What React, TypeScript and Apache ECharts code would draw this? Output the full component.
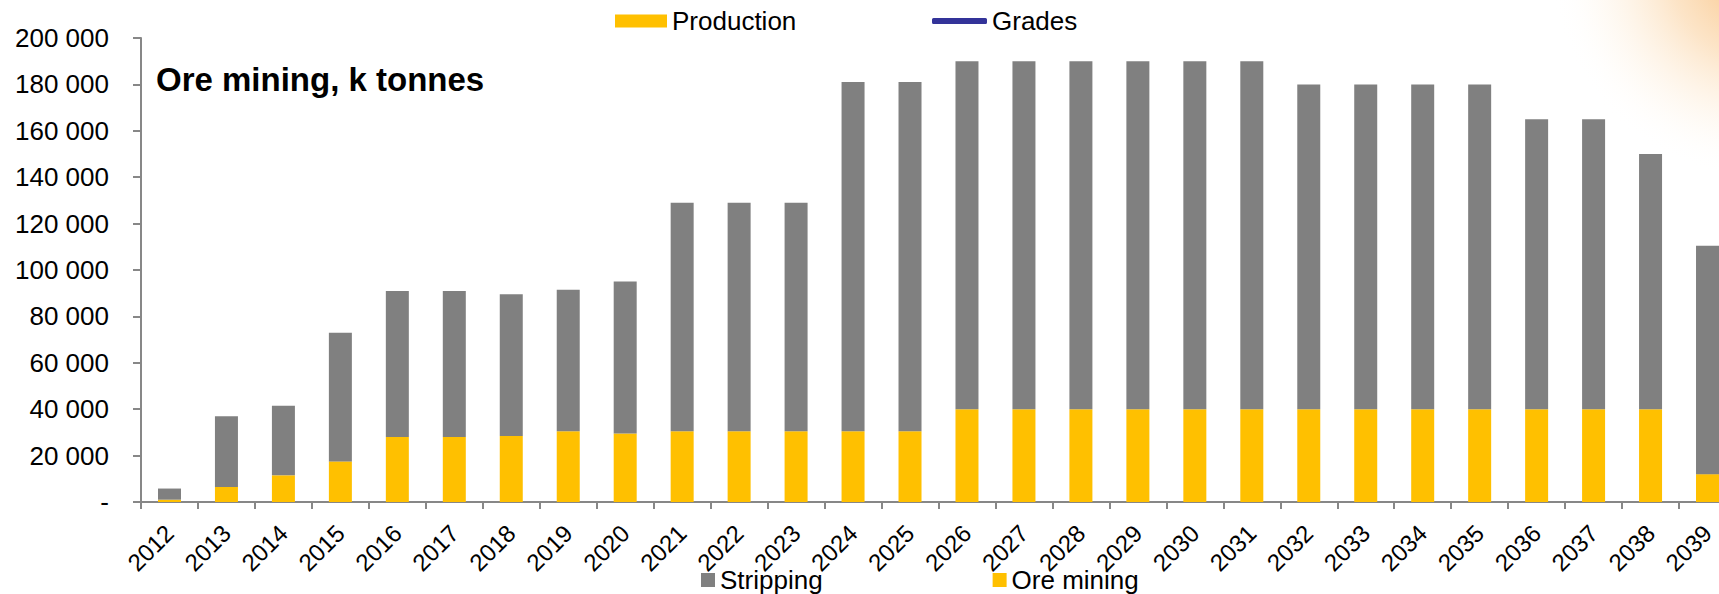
import React, { useEffect, useRef } from "react";
import * as echarts from "echarts";

// Mining schedule, thousand tonnes per year
const years = [
  "2012", "2013", "2014", "2015", "2016", "2017", "2018", "2019", "2020", "2021",
  "2022", "2023", "2024", "2025", "2026", "2027", "2028", "2029", "2030", "2031",
  "2032", "2033", "2034", "2035", "2036", "2037", "2038", "2039",
];

const oreMining = [
  1000, 6500, 11500, 17500, 28000, 28000, 28500, 30500, 29500, 30500,
  30500, 30500, 30500, 30500, 40000, 40000, 40000, 40000, 40000, 40000,
  40000, 40000, 40000, 40000, 40000, 40000, 40000, 12000,
];

const stripping = [
  4800, 30500, 30000, 55500, 63000, 63000, 61000, 61000, 65500, 98500,
  98500, 98500, 150500, 150500, 150000, 150000, 150000, 150000, 150000, 150000,
  140000, 140000, 140000, 140000, 125000, 125000, 110000, 98500,
];

const yTicks = { min: 0, max: 200000, interval: 20000 };

const FONT = "'Liberation Sans', Arial, sans-serif";
const AXIS_GREY = "#878787";

const formatThousands = (v: number) =>
  v === 0 ? "-" : String(v).replace(/\B(?=(\d{3})+(?!\d))/g, " ");

export default function App() {
  const ref = useRef<HTMLDivElement>(null);

  useEffect(() => {
    if (!ref.current) return;
    const chart = echarts.init(ref.current, undefined, { renderer: "svg" });

    chart.setOption({
      animation: false,
      backgroundColor: "#ffffff",
      title: {
        text: "Ore mining, k tonnes",
        left: 156,
        top: 63,
        padding: 0,
        textStyle: { fontFamily: FONT, fontSize: 33, fontWeight: "bold", color: "#000" },
      },
      graphic: [
        {
          // soft warm glow in the top-right corner of the slide
          type: "circle",
          silent: true,
          z: -10,
          shape: { cx: 1765, cy: -35, r: 215 },
          style: {
            fill: {
              type: "radial",
              x: 0.5,
              y: 0.5,
              r: 0.5,
              colorStops: [
                { offset: 0, color: "rgba(246,168,78,0.8)" },
                { offset: 0.45, color: "rgba(249,196,132,0.45)" },
                { offset: 0.8, color: "rgba(253,230,200,0.15)" },
                { offset: 1, color: "rgba(255,255,255,0)" },
              ],
            },
          },
        },
      ],
      legend: [
        {
          data: [{ name: "Stripping" }, { name: "Ore mining" }],
          left: 701,
          top: 567,
          padding: 0,
          itemWidth: 14,
          itemHeight: 14,
          itemGap: 170,
          icon: "rect",
          selectedMode: false,
          textStyle: { fontFamily: FONT, fontSize: 26, color: "#000" },
        },
        {
          data: [{ name: "Production", icon: "rect" }],
          left: 615,
          top: 8,
          padding: 0,
          itemWidth: 52,
          itemHeight: 13,
          selectedMode: false,
          textStyle: { fontFamily: FONT, fontSize: 26, color: "#000" },
        },
        {
          data: [{ name: "Grades", icon: "roundRect" }],
          left: 932,
          top: 8,
          padding: 0,
          itemWidth: 55,
          itemHeight: 6,
          selectedMode: false,
          textStyle: { fontFamily: FONT, fontSize: 26, color: "#000" },
        },
      ],
      grid: { left: 141, top: 38, right: 24, bottom: 92 },
      xAxis: {
        type: "category",
        data: years,
        axisLine: { show: true, lineStyle: { color: AXIS_GREY, width: 2 } },
        axisTick: { show: true, interval: 0, length: 7, lineStyle: { color: AXIS_GREY, width: 2 } },
        axisLabel: {
          interval: 0,
          rotate: 45,
          margin: 27,
          fontFamily: FONT,
          fontSize: 24,
          color: "#000",
        },
        splitLine: { show: false },
      },
      yAxis: {
        type: "value",
        min: yTicks.min,
        max: yTicks.max,
        interval: yTicks.interval,
        axisLine: { show: true, lineStyle: { color: AXIS_GREY, width: 2 } },
        axisTick: { show: true, length: 8, lineStyle: { color: AXIS_GREY, width: 2 } },
        axisLabel: {
          margin: 32,
          fontFamily: FONT,
          fontSize: 26,
          color: "#000",
          formatter: formatThousands,
        },
        splitLine: { show: false },
      },
      series: [
        {
          name: "Ore mining",
          type: "bar",
          stack: "total",
          barWidth: 23,
          data: oreMining,
          itemStyle: { color: "#FFC000" },
        },
        {
          name: "Stripping",
          type: "bar",
          stack: "total",
          barWidth: 23,
          data: stripping,
          itemStyle: { color: "#808080" },
        },
        {
          name: "Production",
          type: "bar",
          stack: "total",
          barWidth: 23,
          data: [],
          itemStyle: { color: "#FFC000" },
        },
        {
          name: "Grades",
          type: "line",
          data: [],
          itemStyle: { color: "#333399" },
          lineStyle: { color: "#333399", width: 4 },
        },
      ],
    });

    return () => chart.dispose();
  }, []);

  return (
    <div
      style={{
        position: "fixed",
        left: 0,
        top: 0,
        width: "100vw",
        height: "100vh",
        overflow: "hidden",
        background: "#ffffff",
      }}
    >
      <div ref={ref} style={{ width: 1760, height: 594 }} />
    </div>
  );
}
